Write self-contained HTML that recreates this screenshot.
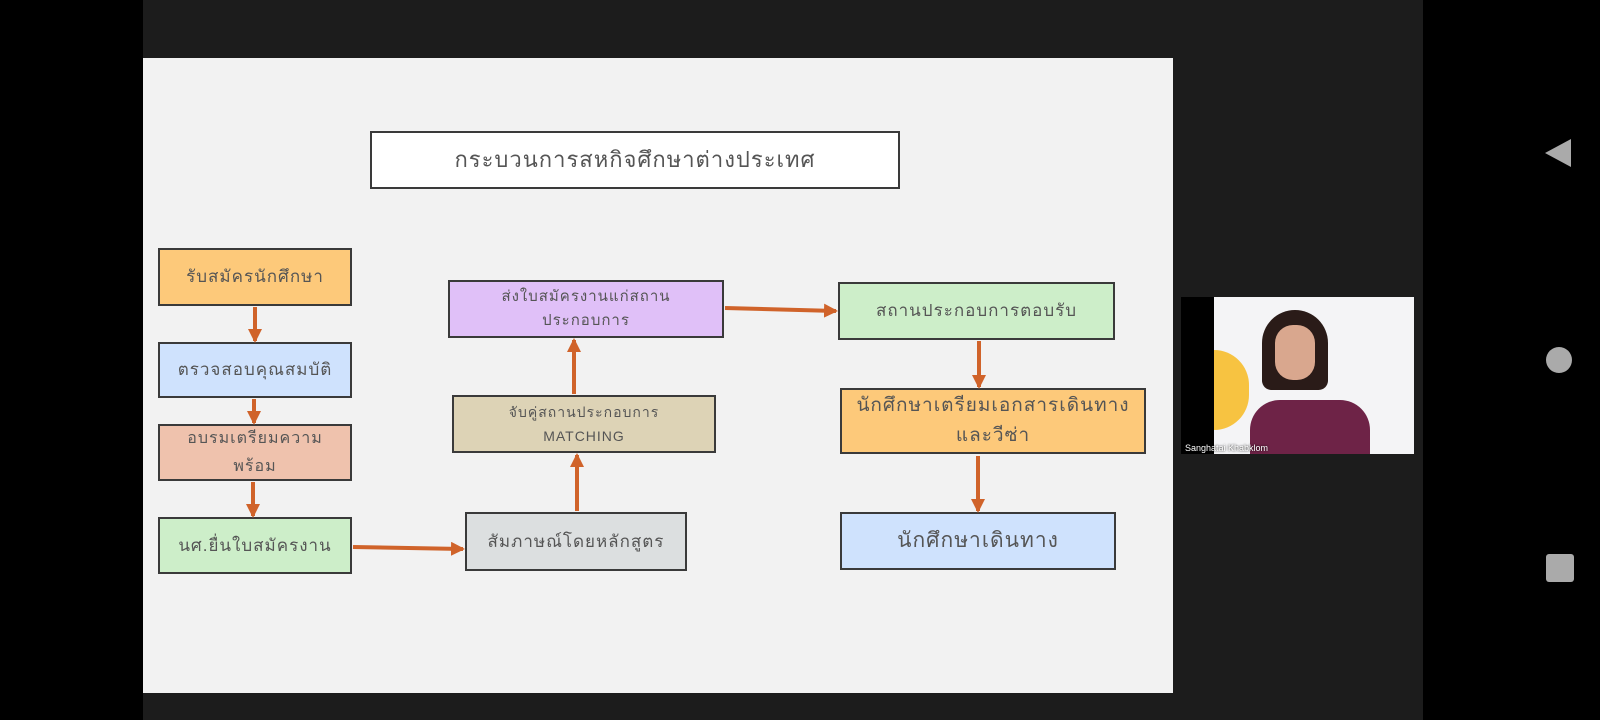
<!DOCTYPE html>
<html><head><meta charset="utf-8"><style>
body{margin:0;width:1600px;height:720px;background:#000;position:relative;overflow:hidden;font-family:"Liberation Sans","Noto Sans CJK SC",sans-serif}
.d{position:absolute}
.b{position:absolute;border:2px solid #3a3a3a;box-sizing:border-box;display:flex;align-items:center;justify-content:center;text-align:center;color:#555;font-size:17px;line-height:28px;letter-spacing:1px}
</style></head><body>
<div class="d" style="left:143px;top:0;width:1280px;height:720px;background:#1c1c1c"></div>
<div class="d" style="left:143px;top:58px;width:1030px;height:635px;background:#f2f2f2"></div>
<div class="b" style="left:370px;top:131px;width:530px;height:58px;background:#fff;font-size:22px">กระบวนการสหกิจศึกษาต่างประเทศ</div>
<div class="b" style="left:158px;top:248px;width:194px;height:58px;background:#fdc97a">รับสมัครนักศึกษา</div>
<div class="b" style="left:158px;top:342px;width:194px;height:56px;background:#cfe2fd">ตรวจสอบคุณสมบัติ</div>
<div class="b" style="left:158px;top:424px;width:194px;height:57px;background:#efc2ad;font-size:16px">อบรมเตรียมความ<br>พร้อม</div>
<div class="b" style="left:158px;top:517px;width:194px;height:57px;background:#cdeec9">นศ.ยื่นใบสมัครงาน</div>
<div class="b" style="left:465px;top:512px;width:222px;height:59px;background:#dcdfe0">สัมภาษณ์โดยหลักสูตร</div>
<div class="b" style="left:452px;top:395px;width:264px;height:58px;background:#ddd3b6;font-size:14px;line-height:24px">จับคู่สถานประกอบการ<br>MATCHING</div>
<div class="b" style="left:448px;top:280px;width:276px;height:58px;background:#e0c0f8;font-size:15px;line-height:24px">ส่งใบสมัครงานแก่สถาน<br>ประกอบการ</div>
<div class="b" style="left:838px;top:282px;width:277px;height:58px;background:#cdeec9">สถานประกอบการตอบรับ</div>
<div class="b" style="left:840px;top:388px;width:306px;height:66px;background:#fdc97a;font-size:19px;line-height:30px">นักศึกษาเตรียมเอกสารเดินทาง<br>และวีซ่า</div>
<div class="b" style="left:840px;top:512px;width:276px;height:58px;background:#cfe2fd;font-size:21px">นักศึกษาเดินทาง</div>
<svg class="d" style="left:0;top:0" width="1600" height="720">
<defs><marker id="a" markerWidth="14" markerHeight="14" refX="12" refY="7" orient="auto" markerUnits="userSpaceOnUse"><path d="M0,0L14,7L0,14z" fill="#d0632a"/></marker></defs>
<g stroke="#d0632a" stroke-width="4" fill="none" marker-end="url(#a)">
<line x1="255" y1="307" x2="255" y2="341"/>
<line x1="254" y1="399" x2="254" y2="423"/>
<line x1="253" y1="482" x2="253" y2="516"/>
<line x1="353" y1="547" x2="463" y2="549"/>
<line x1="577" y1="511" x2="577" y2="455"/>
<line x1="574" y1="394" x2="574" y2="340"/>
<line x1="725" y1="308" x2="836" y2="311"/>
<line x1="979" y1="341" x2="979" y2="387"/>
<line x1="978" y1="456" x2="978" y2="511"/>
</g>
<polygon points="1545,153 1571,139 1571,167" fill="#aaa"/>
<circle cx="1559" cy="360" r="13" fill="#aaa"/>
<rect x="1546" y="554" width="28" height="28" rx="3" fill="#aaa"/>
</svg>
<div class="d" style="left:1181px;top:297px;width:233px;height:157px;background:#000"></div>
<div class="d" style="left:1214px;top:297px;width:200px;height:157px;background:#f4f4f6"></div>
<div class="d" style="left:1214px;top:350px;width:35px;height:80px;background:#f7c341;border-radius:0 40px 40px 0"></div>
<div class="d" style="left:1262px;top:310px;width:66px;height:80px;background:#2a1b18;border-radius:35px 35px 10px 10px"></div>
<div class="d" style="left:1275px;top:325px;width:40px;height:55px;background:#d9a78e;border-radius:18px"></div>
<div class="d" style="left:1250px;top:400px;width:120px;height:54px;background:#6e2347;border-radius:30px 30px 0 0"></div>
<div class="d" style="left:1185px;top:443px;font-size:9px;color:#fff;text-shadow:0 0 2px #000">Sanghatai Khabklom</div>
</body></html>
